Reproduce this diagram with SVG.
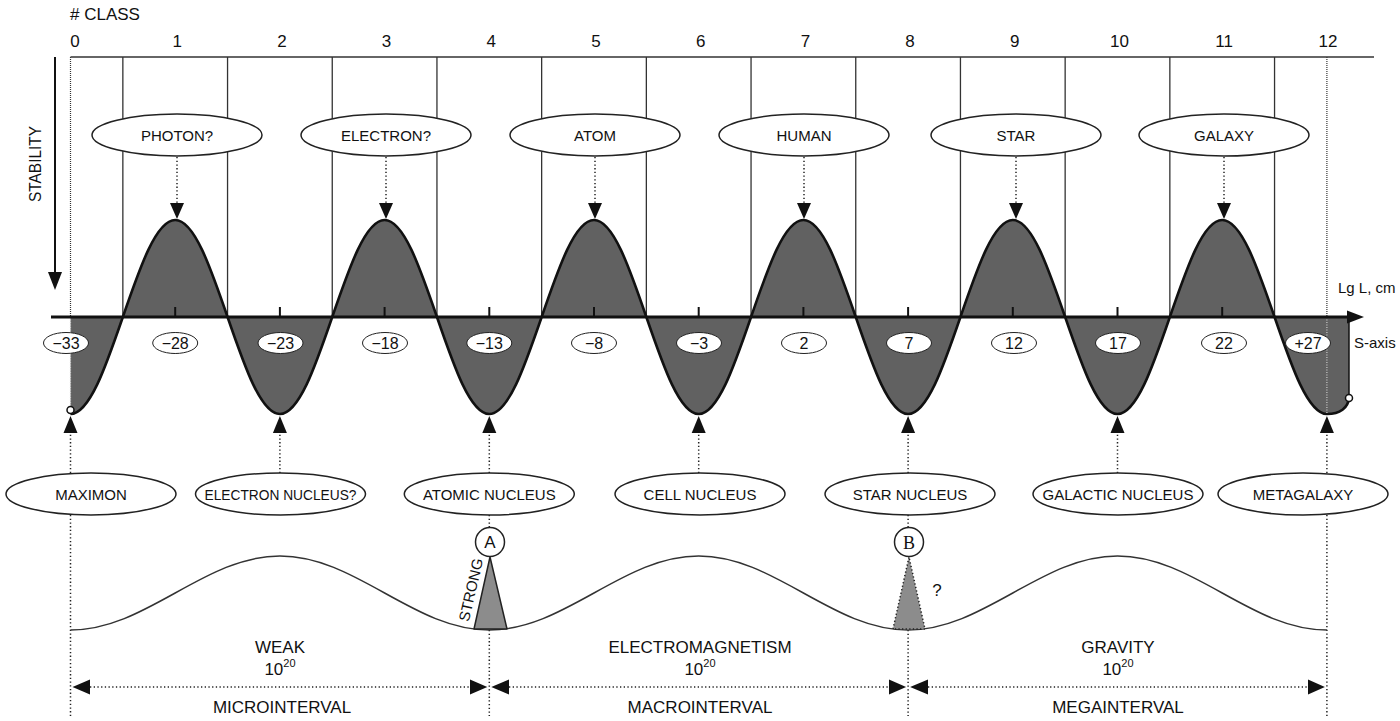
<svg xmlns="http://www.w3.org/2000/svg" width="1400" height="721" viewBox="0 0 1400 721">
<defs>
<style>
text{font-family:"Liberation Sans",Arial,sans-serif;fill:#111}
.lbl{font-size:15px;text-anchor:middle}
.cls{font-size:17px;text-anchor:middle}
.val{font-size:16px;text-anchor:middle}
.big{font-size:17px;text-anchor:middle}
.node{fill:#fff;stroke:#222;stroke-width:1.5}
.vnode{fill:#fff;stroke:#222;stroke-width:1}
.thin{stroke:#333;stroke-width:1.3;fill:none}
.dot{stroke:#222;stroke-width:1.5;fill:none;stroke-dasharray:1.3 2.4}
.dotd{stroke:#333;stroke-width:1.2;fill:none;stroke-dasharray:1 1}
.head{fill:#111}
</style>
</defs>
<rect width="1400" height="721" fill="#fff"/>

<!-- frame / class grid -->
<g id="grid">
<line x1="70.5" y1="57" x2="1374" y2="57" class="thin"/>
<g class="thin">
<line x1="122.85" y1="57" x2="122.85" y2="317"/>
<line x1="227.55" y1="57" x2="227.55" y2="317"/>
<line x1="332.25" y1="57" x2="332.25" y2="317"/>
<line x1="436.95" y1="57" x2="436.95" y2="317"/>
<line x1="541.65" y1="57" x2="541.65" y2="317"/>
<line x1="646.35" y1="57" x2="646.35" y2="317"/>
<line x1="751.05" y1="57" x2="751.05" y2="317"/>
<line x1="855.75" y1="57" x2="855.75" y2="317"/>
<line x1="960.45" y1="57" x2="960.45" y2="317"/>
<line x1="1065.15" y1="57" x2="1065.15" y2="317"/>
<line x1="1169.85" y1="57" x2="1169.85" y2="317"/>
<line x1="1274.55" y1="57" x2="1274.55" y2="317"/>
</g>
<line x1="70.5" y1="57" x2="70.5" y2="317" class="dotd"/>
<line x1="1326.9" y1="57" x2="1326.9" y2="317" class="dotd"/>
<text x="70" y="20" style="font-size:17px">#&#160;CLASS</text>
<text class="cls" x="75" y="47">0</text>
<text class="cls" x="177.2" y="47">1</text>
<text class="cls" x="281.9" y="47">2</text>
<text class="cls" x="386.6" y="47">3</text>
<text class="cls" x="491.3" y="47">4</text>
<text class="cls" x="596" y="47">5</text>
<text class="cls" x="700.7" y="47">6</text>
<text class="cls" x="805.4" y="47">7</text>
<text class="cls" x="910.1" y="47">8</text>
<text class="cls" x="1014.8" y="47">9</text>
<text class="cls" x="1119.5" y="47">10</text>
<text class="cls" x="1224.2" y="47">11</text>
<text class="cls" x="1327.9" y="47">12</text>
<text style="font-size:17px;text-anchor:middle" transform="translate(41,164) rotate(-90)" textLength="76" lengthAdjust="spacingAndGlyphs">STABILITY</text>
<line x1="55" y1="57" x2="55" y2="276" stroke="#111" stroke-width="2"/>
<polygon class="head" points="48,272 62,272 55,290"/>
</g>

<!-- main stability wave -->
<g id="wave">
<path fill="#616161" stroke="none" d="M70.5 414 C89.44 414 105.78 366.69 122.85 317 S156.26 220 175.2 220 S210.48 267.31 227.55 317 S260.96 414 279.9 414 S315.18 366.69 332.25 317 S365.66 220 384.6 220 S419.88 267.31 436.95 317 S470.36 414 489.3 414 S524.58 366.69 541.65 317 S575.06 220 594 220 S629.28 267.31 646.35 317 S679.76 414 698.7 414 S733.98 366.69 751.05 317 S784.46 220 803.4 220 S838.68 267.31 855.75 317 S889.16 414 908.1 414 S943.38 366.69 960.45 317 S993.86 220 1012.8 220 S1048.08 267.31 1065.15 317 S1098.56 414 1117.5 414 S1152.78 366.69 1169.85 317 S1203.26 220 1222.2 220 S1257.48 267.31 1274.55 317 S1307.96 414 1326.9 414 C1340 414 1348 408 1349 398 L1349 317 L70.5 317 Z"/>
<path fill="none" stroke="#111" stroke-width="2.6" d="M70.5 414 C89.44 414 105.78 366.69 122.85 317 S156.26 220 175.2 220 S210.48 267.31 227.55 317 S260.96 414 279.9 414 S315.18 366.69 332.25 317 S365.66 220 384.6 220 S419.88 267.31 436.95 317 S470.36 414 489.3 414 S524.58 366.69 541.65 317 S575.06 220 594 220 S629.28 267.31 646.35 317 S679.76 414 698.7 414 S733.98 366.69 751.05 317 S784.46 220 803.4 220 S838.68 267.31 855.75 317 S889.16 414 908.1 414 S943.38 366.69 960.45 317 S993.86 220 1012.8 220 S1048.08 267.31 1065.15 317 S1098.56 414 1117.5 414 S1152.78 366.69 1169.85 317 S1203.26 220 1222.2 220 S1257.48 267.31 1274.55 317 S1307.96 414 1326.9 414 C1340 414 1348 408 1349 398"/>
<line x1="1349" y1="398" x2="1349" y2="317" stroke="#111" stroke-width="1.5"/>
<line x1="1326.9" y1="317" x2="1326.9" y2="413" stroke="#ccc" stroke-width="1.2" stroke-dasharray="1 1.5"/>
<line x1="70.5" y1="317" x2="70.5" y2="407" stroke="#ccc" stroke-width="1.2" stroke-dasharray="1 1.5"/>
<circle cx="70.5" cy="410" r="3.5" fill="#fff" stroke="#111" stroke-width="1.5"/>
<circle cx="1349" cy="398" r="3.5" fill="#fff" stroke="#111" stroke-width="1.5"/>
<line x1="51" y1="317" x2="1350" y2="317" stroke="#111" stroke-width="3"/>
<polygon class="head" points="1347,310.5 1364,317 1347,323.5"/>
<g stroke="#111" stroke-width="2">
<line x1="175.2" y1="307" x2="175.2" y2="317"/>
<line x1="279.9" y1="307" x2="279.9" y2="317"/>
<line x1="384.6" y1="307" x2="384.6" y2="317"/>
<line x1="489.3" y1="307" x2="489.3" y2="317"/>
<line x1="594" y1="307" x2="594" y2="317"/>
<line x1="698.7" y1="307" x2="698.7" y2="317"/>
<line x1="803.4" y1="307" x2="803.4" y2="317"/>
<line x1="908.1" y1="307" x2="908.1" y2="317"/>
<line x1="1012.8" y1="307" x2="1012.8" y2="317"/>
<line x1="1117.5" y1="307" x2="1117.5" y2="317"/>
<line x1="1222.2" y1="307" x2="1222.2" y2="317"/>
</g>
<text x="1338" y="293" style="font-size:15px">Lg L, cm</text>
<text x="1354" y="348" style="font-size:15px">S-axis</text>
</g>

<!-- S-axis value labels -->
<g id="values">
<g><ellipse class="vnode" cx="66" cy="343" rx="22.5" ry="10.5"/><text class="val" x="66" y="349">−33</text></g>
<g><ellipse class="vnode" cx="175.2" cy="343" rx="22.5" ry="10.5"/><text class="val" x="175.2" y="349">−28</text></g>
<g><ellipse class="vnode" cx="280.5" cy="343" rx="22.5" ry="10.5"/><text class="val" x="280.5" y="349">−23</text></g>
<g><ellipse class="vnode" cx="385" cy="343" rx="22.5" ry="10.5"/><text class="val" x="385" y="349">−18</text></g>
<g><ellipse class="vnode" cx="489.3" cy="343" rx="22.5" ry="10.5"/><text class="val" x="489.3" y="349">−13</text></g>
<g><ellipse class="vnode" cx="594" cy="343" rx="22.5" ry="10.5"/><text class="val" x="594" y="349">−8</text></g>
<g><ellipse class="vnode" cx="699" cy="343" rx="22.5" ry="10.5"/><text class="val" x="699" y="349">−3</text></g>
<g><ellipse class="vnode" cx="804" cy="343" rx="22.5" ry="10.5"/><text class="val" x="804" y="349">2</text></g>
<g><ellipse class="vnode" cx="909" cy="343" rx="22.5" ry="10.5"/><text class="val" x="909" y="349">7</text></g>
<g><ellipse class="vnode" cx="1014" cy="343" rx="22.5" ry="10.5"/><text class="val" x="1014" y="349">12</text></g>
<g><ellipse class="vnode" cx="1118" cy="343" rx="22.5" ry="10.5"/><text class="val" x="1118" y="349">17</text></g>
<g><ellipse class="vnode" cx="1224" cy="343" rx="22.5" ry="10.5"/><text class="val" x="1224" y="349">22</text></g>
<g><ellipse class="vnode" cx="1308" cy="343" rx="22.5" ry="10.5"/><text class="val" x="1308" y="349">+27</text></g>
</g>

<!-- connectors -->
<g id="connectors">
<g class="dot">
<line x1="177" y1="157" x2="177" y2="204"/>
<line x1="386" y1="157" x2="386" y2="204"/>
<line x1="595" y1="157" x2="595" y2="204"/>
<line x1="804" y1="157" x2="804" y2="204"/>
<line x1="1016" y1="157" x2="1016" y2="204"/>
<line x1="1224" y1="157" x2="1224" y2="204"/>
<line x1="70.5" y1="431" x2="70.5" y2="473"/>
<line x1="279.9" y1="431" x2="279.9" y2="473"/>
<line x1="489.3" y1="431" x2="489.3" y2="473"/>
<line x1="698.7" y1="431" x2="698.7" y2="473"/>
<line x1="908.1" y1="431" x2="908.1" y2="473"/>
<line x1="1117.5" y1="431" x2="1117.5" y2="473"/>
<line x1="1326.9" y1="431" x2="1326.9" y2="473"/>
<line x1="70.5" y1="515" x2="70.5" y2="716"/>
<line x1="1326.9" y1="515" x2="1326.9" y2="716"/>
<line x1="489.3" y1="515" x2="489.3" y2="527"/>
<line x1="489.3" y1="630" x2="489.3" y2="716"/>
<line x1="908.1" y1="515" x2="908.1" y2="527"/>
<line x1="908.1" y1="630" x2="908.1" y2="716"/>
<line x1="90" y1="687" x2="470" y2="687"/>
<line x1="509" y1="687" x2="889" y2="687"/>
<line x1="928" y1="687" x2="1309" y2="687"/>
</g>
<g class="head">
<polygon points="170,203 184,203 177,219"/>
<polygon points="379,203 393,203 386,219"/>
<polygon points="588,203 602,203 595,219"/>
<polygon points="797,203 811,203 804,219"/>
<polygon points="1009,203 1023,203 1016,219"/>
<polygon points="1217,203 1231,203 1224,219"/>
<polygon points="63.5,433 77.5,433 70.5,416"/>
<polygon points="272.9,433 286.9,433 279.9,416"/>
<polygon points="482.3,433 496.3,433 489.3,416"/>
<polygon points="691.7,433 705.7,433 698.7,416"/>
<polygon points="901.1,433 915.1,433 908.1,416"/>
<polygon points="1110.5,433 1124.5,433 1117.5,416"/>
<polygon points="1319.9,433 1333.9,433 1326.9,416"/>
<polygon points="72.5,687 90,679.5 90,694.5"/>
<polygon points="487.3,687 470,679.5 470,694.5"/>
<polygon points="491.3,687 509,679.5 509,694.5"/>
<polygon points="906.1,687 889,679.5 889,694.5"/>
<polygon points="910.1,687 928,679.5 928,694.5"/>
<polygon points="1324.9,687 1308,679.5 1308,694.5"/>
</g>
</g>

<!-- upper nodes -->
<g id="photon"><ellipse class="node" cx="177" cy="135" rx="85" ry="21"/><text class="lbl" x="177" y="140.5">PHOTON?</text></g>
<g id="electron"><ellipse class="node" cx="386" cy="135" rx="85" ry="21"/><text class="lbl" x="386" y="140.5">ELECTRON?</text></g>
<g id="atom"><ellipse class="node" cx="595" cy="135" rx="85" ry="21"/><text class="lbl" x="595" y="140.5">ATOM</text></g>
<g id="human"><ellipse class="node" cx="804" cy="135" rx="85" ry="21"/><text class="lbl" x="804" y="140.5">HUMAN</text></g>
<g id="star"><ellipse class="node" cx="1016" cy="135" rx="85" ry="21"/><text class="lbl" x="1016" y="140.5">STAR</text></g>
<g id="galaxy"><ellipse class="node" cx="1224" cy="135" rx="85" ry="21"/><text class="lbl" x="1224" y="140.5">GALAXY</text></g>

<!-- lower nodes -->
<g id="maximon"><ellipse class="node" cx="91" cy="494" rx="85" ry="21"/><text class="lbl" x="91" y="499.5">MAXIMON</text></g>
<g id="electron-nucleus"><ellipse class="node" cx="280.5" cy="494" rx="85" ry="21"/><text class="lbl" x="280.5" y="499.5" textLength="152" lengthAdjust="spacingAndGlyphs">ELECTRON NUCLEUS?</text></g>
<g id="atomic-nucleus"><ellipse class="node" cx="489.3" cy="494" rx="85" ry="21"/><text class="lbl" x="489.3" y="499.5">ATOMIC NUCLEUS</text></g>
<g id="cell-nucleus"><ellipse class="node" cx="700" cy="494" rx="85" ry="21"/><text class="lbl" x="700" y="499.5">CELL NUCLEUS</text></g>
<g id="star-nucleus"><ellipse class="node" cx="910" cy="494" rx="85" ry="21"/><text class="lbl" x="910" y="499.5">STAR NUCLEUS</text></g>
<g id="galactic-nucleus"><ellipse class="node" cx="1118" cy="494" rx="85" ry="21"/><text class="lbl" x="1118" y="499.5">GALACTIC NUCLEUS</text></g>
<g id="metagalaxy"><ellipse class="node" cx="1303" cy="494" rx="85" ry="21"/><text class="lbl" x="1303" y="499.5">METAGALAXY</text></g>

<!-- interaction wave -->
<g id="forces">
<path fill="none" stroke="#333" stroke-width="1.5" d="M70.5 630 C108.4 630 141.05 611.96 175.2 593 S242 556 279.9 556 S350.45 574.04 384.6 593 S451.4 630 489.3 630 S559.85 611.96 594 593 S660.8 556 698.7 556 S769.25 574.04 803.4 593 S870.2 630 908.1 630 S978.65 611.96 1012.8 593 S1079.6 556 1117.5 556 S1188.05 574.04 1222.2 593 S1289 630 1326.9 630"/>
<text class="big" x="280" y="653">WEAK</text>
<text class="big" x="280" y="675">10<tspan dy="-8" style="font-size:11px">20</tspan></text>
<text class="big" x="700" y="653">ELECTROMAGNETISM</text>
<text class="big" x="700" y="675">10<tspan dy="-8" style="font-size:11px">20</tspan></text>
<text class="big" x="1118" y="653">GRAVITY</text>
<text class="big" x="1118" y="675">10<tspan dy="-8" style="font-size:11px">20</tspan></text>
<text class="big" x="282" y="713">MICROINTERVAL</text>
<text class="big" x="700" y="713">MACROINTERVAL</text>
<text class="big" x="1118" y="713">MEGAINTERVAL</text>
</g>

<g id="node-a">
<polygon points="474,629 490,557 507,629" fill="#8c8c8c" stroke="#222" stroke-width="1.5" stroke-linejoin="round"/>
<circle cx="490" cy="542" r="14.5" fill="#fff" stroke="#222" stroke-width="1.5"/>
<text class="big" x="490" y="548">A</text>
<text style="font-size:15px;text-anchor:middle" transform="translate(476,591) rotate(-77)">STRONG</text>
</g>

<g id="node-b">
<polygon points="893,629 909,557 925,629" fill="#8c8c8c" stroke="#222" stroke-width="1.5" stroke-dasharray="1.3 2.3"/>
<circle cx="909" cy="542" r="14.5" fill="#fff" stroke="#222" stroke-width="1.5"/>
<text x="909" y="548.5" style="font-family:'Liberation Serif',serif;font-size:18px;text-anchor:middle">B</text>
<text class="big" x="937" y="596">?</text>
</g>
</svg>
